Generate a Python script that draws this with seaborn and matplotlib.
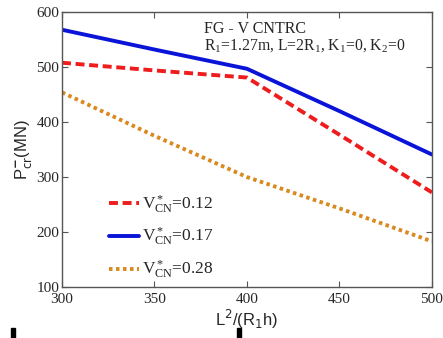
import numpy as np
import pandas as pd
import matplotlib
matplotlib.use("Agg")
import matplotlib.pyplot as plt
import seaborn as sns

x_vals = [300, 350, 400, 450, 500]
p_012 = [508, 494, 481, 377, 272]
p_017 = [568, 532, 497, 420, 341]
p_028 = [454, 375, 300, 243, 183]
labels = [r"V$^*_{\rm CN}$=0.12", r"V$^*_{\rm CN}$=0.17", r"V$^*_{\rm CN}$=0.28"]

df = pd.DataFrame({
    "x": x_vals * 3,
    "p": p_012 + p_017 + p_028,
    "s": [labels[0]] * 5 + [labels[1]] * 5 + [labels[2]] * 5,
})

sns.set_style("white")
plt.rcParams["font.family"] = ["Liberation Serif", "DejaVu Serif"]
plt.rcParams["mathtext.fontset"] = "custom"
plt.rcParams["mathtext.rm"] = "Liberation Serif"
plt.rcParams["mathtext.it"] = "Liberation Serif:italic"

fig = plt.figure(figsize=(4.43, 3.38), dpi=100)
ax = fig.add_axes([0.14, 0.151, 0.835, 0.813])

palette = {labels[0]: "#ee1c1c", labels[1]: "#0a14d8", labels[2]: "#d9891e"}
dashes = {labels[0]: (2.3, 1.2), labels[1]: "", labels[2]: (0.9, 0.9)}
sns.lineplot(data=df, x="x", y="p", hue="s", style="s", palette=palette,
             dashes=dashes, linewidth=2.8, ax=ax, legend=False)

handles = []
for lab in labels:
    h, = ax.plot([], [], color=palette[lab], lw=2.8)
    if dashes[lab]:
        h.set_dashes(dashes[lab])
    handles.append(h)
leg = ax.legend(handles, labels, loc="lower left", bbox_to_anchor=(0.085, -0.035),
                frameon=False, fontsize=12.5, handlelength=1.75, handletextpad=0.15,
                labelspacing=0.6)

ax.set_xlim(300, 500)
ax.set_ylim(100, 600)
ax.set_xticks([300, 350, 400, 450, 500])
ax.set_yticks([100, 200, 300, 400, 500, 600])
ax.tick_params(direction="in", length=4, labelsize=11, top=True, right=True,
               bottom=True, left=True, pad=2, color="#555555")
ax.tick_params(axis="x", pad=4)
for s in ax.spines.values():
    s.set_color("#555555")
    s.set_linewidth(1.0)

ax.set_xlabel(r"L$^2$/(R$_1$h)", fontsize=12, family=["Liberation Sans"], labelpad=2)
ax.set_ylabel(r"P$^{\mathbf{-}}_{\rm cr}$(MN)", fontsize=12, family=["Liberation Sans"], labelpad=2)
ax.yaxis.label.set_math_fontfamily("dejavusans")
ax.xaxis.label.set_math_fontfamily("dejavusans")

ax.text(0.385, 0.94, "FG - V CNTRC", transform=ax.transAxes, fontsize=11.5, va="center")
ax.text(0.385, 0.877, r"R$_1$=1.27m, L=2R$_1$, K$_1$=0, K$_2$=0",
        transform=ax.transAxes, fontsize=11.3, va="center")

fig.patches.append(plt.Rectangle((0.025, 0.0), 0.008, 0.03, transform=fig.transFigure,
                                 color="black", figure=fig))
fig.patches.append(plt.Rectangle((0.535, 0.0), 0.008, 0.03, transform=fig.transFigure,
                                 color="black", figure=fig))

fig.savefig("out.png", dpi=100)
